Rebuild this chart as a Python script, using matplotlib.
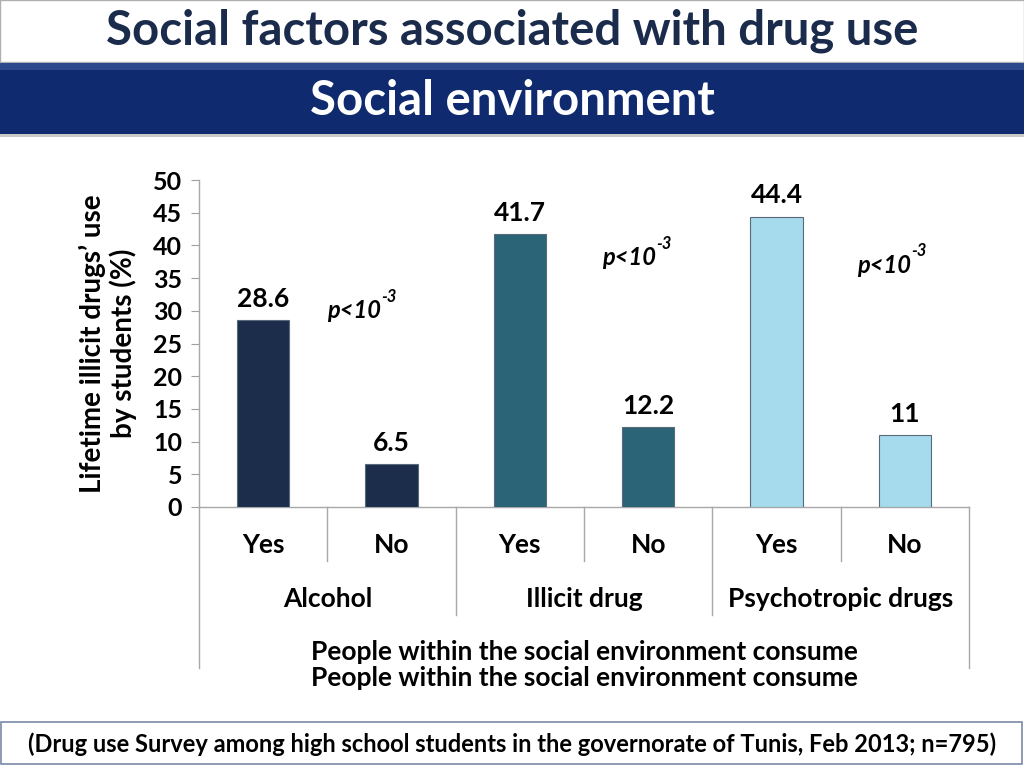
import matplotlib
matplotlib.use("Agg")
import matplotlib.pyplot as plt
from matplotlib.patches import Rectangle
from matplotlib.lines import Line2D
import matplotlib.transforms as mtransforms

plt.rcParams['font.family'] = ['Lato', 'DejaVu Sans']

# ---- data ----
groups = ["Alcohol", "Illicit drug", "Psychotropic drugs"]
answers = ["Yes", "No", "Yes", "No", "Yes", "No"]
values = [28.6, 6.5, 41.7, 12.2, 44.4, 11]
value_labels = ["28.6", "6.5", "41.7", "12.2", "44.4", "11"]
group_colors = ["#1b2d4b", "#2a6476", "#a5dbec"]
pvalue_main = "p<10"
pvalue_exp = "-3"
pvalue_x = [0.72, 2.86, 4.85]
pvalue_y = [30.1, 38.2, 37.0]
yticks = [0, 5, 10, 15, 20, 25, 30, 35, 40, 45, 50]

title = "Social factors associated with drug use"
subtitle = "Social environment"
ylabel = "Lifetime illicit drugs\u2019 use\nby students (%)"
xlabel = "People within the social environment consume"
footer = "(Drug use Survey among high school students in the governorate of Tunis, Feb 2013; n=795)"

W, H = 1024, 768
fig = plt.figure(figsize=(W / 100, H / 100), dpi=100)
fig.patch.set_facecolor("white")

def fy(py):
    return 1 - py / H

def fx(px):
    return px / W

# header
fig.patches.append(Rectangle((0, fy(62)), 1, fy(0) - fy(62), transform=fig.transFigure,
                             facecolor="white", edgecolor="#b0b0b0", lw=1.0, zorder=0))
fig.patches.append(Rectangle((0, fy(137)), 1, fy(63) - fy(137), transform=fig.transFigure,
                             facecolor="#c8c8c8", edgecolor="none", zorder=0))
fig.patches.append(Rectangle((0, fy(134)), 1, fy(63) - fy(134), transform=fig.transFigure,
                             facecolor="#0f2a6e", edgecolor="none", zorder=1))
fig.patches.append(Rectangle((0, fy(70)), 1, fy(63) - fy(70), transform=fig.transFigure,
                             facecolor="#2b4a8e", edgecolor="none", zorder=1))
fig.text(0.5, fy(31), title, ha="center", va="center", fontsize=34, fontweight="bold",
         color="#1a2b4c")
fig.text(0.5, fy(101), subtitle, ha="center", va="center", fontsize=34, fontweight="bold",
         color="white")

# footer
fig.patches.append(Rectangle((fx(1), fy(764)), fx(1021), fy(722) - fy(764), transform=fig.transFigure,
                             facecolor="white", edgecolor="#7a8aa6", lw=1.2, zorder=0))
fig.text(0.5, fy(744), footer, ha="center", va="center", fontsize=17, fontweight="bold",
         color="black")

# axes
ax = fig.add_axes([fx(199), fy(507), fx(969) - fx(199), fy(180) - fy(507)])
ax.set_facecolor("none")
n = len(values)
xs = list(range(n))
colors = [group_colors[i // 2] for i in range(n)]
ax.bar(xs, values, width=0.41, color=colors, edgecolor="#5a6a7a", linewidth=0.8, zorder=3)
for x, v, lab in zip(xs, values, value_labels):
    ax.text(x, v + 1.4, lab, ha="center", va="bottom", fontsize=19, fontweight="bold")
for x, y in zip(pvalue_x, pvalue_y):
    t = ax.text(x + 0.2, y, pvalue_main, ha="right", va="center", fontsize=17,
                fontweight="bold", fontstyle="italic")
    ax.annotate(pvalue_exp, xy=(x + 0.2, y), xycoords="data", xytext=(0, 4),
                textcoords="offset points", ha="left", va="bottom", fontsize=12,
                fontweight="bold", fontstyle="italic")

ax.set_xlim(-0.5, n - 0.5)
ax.set_ylim(0, 50)
ax.set_yticks(yticks)
ax.set_yticklabels([str(t) for t in yticks], fontsize=18, fontweight="bold")
ax.tick_params(axis="y", direction="out", length=6, color="#a0a0a0", pad=6)
ax.set_xticks([])
for s in ["top", "right"]:
    ax.spines[s].set_visible(False)
for s in ["left", "bottom"]:
    ax.spines[s].set_color("#a8a8a8")
    ax.spines[s].set_linewidth(1.0)

ax.set_ylabel(ylabel, fontsize=20, fontweight="bold", labelpad=12, linespacing=1.15)

trans = mtransforms.blended_transform_factory(ax.transData, ax.transAxes)
axh = 507 - 180
def ay(py):
    return (507 - py) / axh

# category labels
for x, a in zip(xs, answers):
    ax.text(x, ay(545), a, transform=trans, ha="center", va="center", fontsize=19,
            fontweight="bold", clip_on=False)
for g, name in enumerate(groups):
    ax.text(2 * g + 0.5, ay(599), name, transform=trans, ha="center", va="center",
            fontsize=19, fontweight="bold", clip_on=False)
mid = (n - 1) / 2
ax.text(mid, ay(652), xlabel, transform=trans, ha="center", va="center", fontsize=19,
        fontweight="bold", clip_on=False)
ax.text(mid, ay(678), xlabel, transform=trans, ha="center", va="center", fontsize=19,
        fontweight="bold", clip_on=False)

# separators
for b in range(n + 1):
    xb = b - 0.5
    if b == 0 or b == n:
        y_end = ay(668)
    elif b % 2 == 0:
        y_end = ay(615)
    else:
        y_end = ay(561)
    ax.add_line(Line2D([xb, xb], [0, y_end], transform=trans, color="#a8a8a8", lw=1.0,
                       clip_on=False))

fig.savefig("out.png", dpi=100)
